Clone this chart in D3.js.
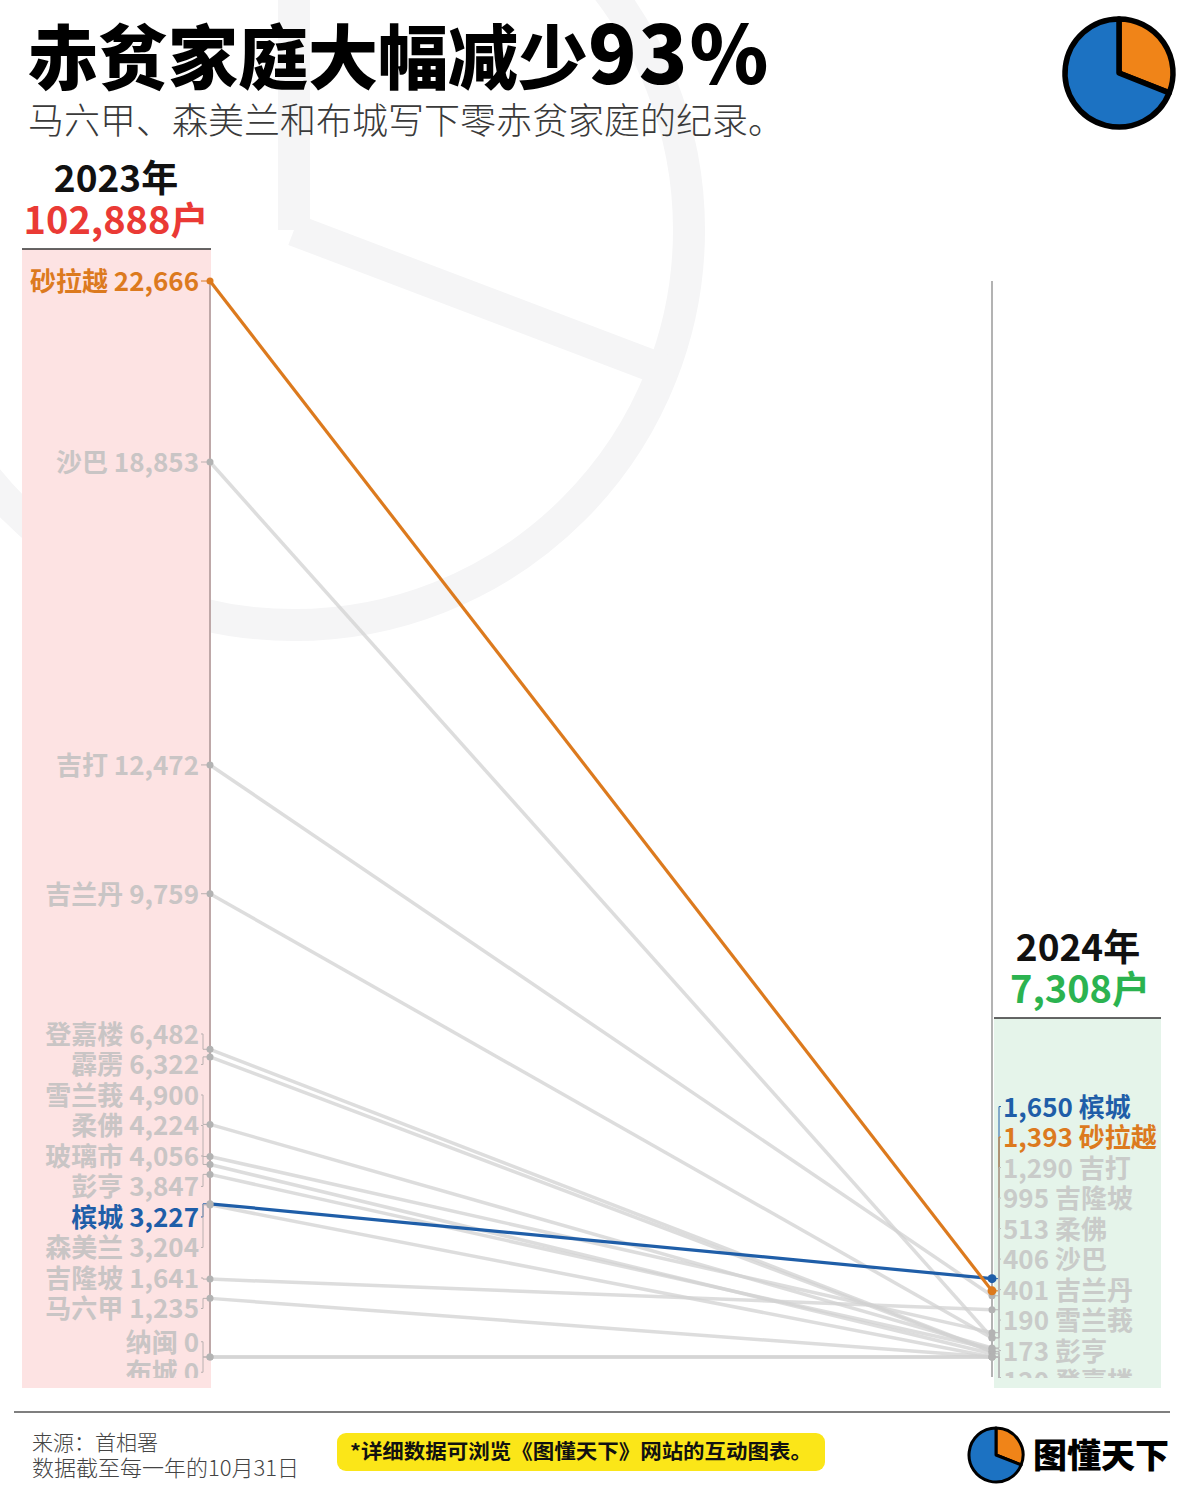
<!DOCTYPE html>
<html>
<head>
<meta charset="utf-8">
<script src="https://cdn.jsdelivr.net/npm/d3@7"></script>
<style>
  body { margin: 0; background: #fff; }
  svg { display: block; font-family: "Noto Sans CJK SC", "Noto Sans", sans-serif; }
</style>
</head>
<body>
<svg id="chart" width="1190" height="1494"></svg>
<script>
// data
const states = ["砂拉越", "沙巴", "吉打", "吉兰丹", "登嘉楼", "霹雳", "雪兰莪", "柔佛",
                "玻璃市", "彭亨", "槟城", "森美兰", "吉隆坡", "马六甲", "纳闽", "布城"]
const households2023 = [22666, 18853, 12472, 9759, 6482, 6322, 4900, 4224,
                        4056, 3847, 3227, 3204, 1641, 1235, 0, 0]
const households2024 = [1393, 406, 1290, 401, 120, 110, 190, 513,
                        67, 173, 1650, 0, 995, 0, 0, 0]
const years = ["2023", "2024"]
const totals = ["102,888户", "7,308户"]
const highlight = { "砂拉越": "#dc7a1e", "槟城": "#1f5ea8" }
const logoShares = [0.31, 0.69]

const svg = d3.select("#chart")
const fmt = d3.format(",")
const clipBottom = 1378

let rows = states.map((s, i) => ({ name: s, a: households2023[i], b: households2024[i], i: i }))

let x = d3.scalePoint().domain(years).range([210, 992])
let y = d3.scaleLinear()
    .domain([0, d3.max(households2023)])
    .range([1357, 281])

// faint pie watermark behind everything
let wm = svg.append("g")
    .attr("fill", "none")
    .attr("stroke", "#f5f5f6")
    .attr("stroke-width", 32)
wm.append("circle").attr("cx", 294).attr("cy", 230).attr("r", 395)
wm.append("line").attr("x1", 294).attr("y1", -20).attr("x2", 294).attr("y2", 230)
wm.append("line").attr("x1", 294).attr("y1", 230).attr("x2", 663).attr("y2", 370)

// column backgrounds
svg.append("rect").attr("x", 22).attr("y", 249).attr("width", 189).attr("height", 1139).attr("fill", "#fde3e3")
svg.append("rect").attr("x", 994).attr("y", 1018).attr("width", 167).attr("height", 370).attr("fill", "#e5f4ea")
svg.append("line").attr("x1", 22).attr("x2", 211).attr("y1", 249).attr("y2", 249).attr("stroke", "#333").attr("stroke-width", 1.5)
svg.append("line").attr("x1", 994).attr("x2", 1161).attr("y1", 1018).attr("y2", 1018).attr("stroke", "#333").attr("stroke-width", 1.5)

// title
let title = svg.append("text")
    .attr("x", 28).attr("y", 84)
    .attr("font-size", 70).attr("font-weight", 900).attr("fill", "#000")
title.append("tspan").text("赤贫家庭大幅减少")
title.append("tspan").attr("font-size", 80).attr("letter-spacing", 2).text("93%")

svg.append("text")
    .attr("x", 28).attr("y", 134)
    .attr("font-size", 36).attr("font-weight", 300).attr("fill", "#3a3a3a")
    .text("马六甲、森美兰和布城写下零赤贫家庭的纪录。")

// year headers
svg.append("text").attr("x", 116).attr("y", 192).attr("text-anchor", "middle")
    .attr("font-size", 37).attr("font-weight", 700).attr("fill", "#111").text(years[0] + "年")
svg.append("text").attr("x", 116).attr("y", 234).attr("text-anchor", "middle")
    .attr("font-size", 38).attr("font-weight", 700).attr("fill", "#ea3a35").text(totals[0])
svg.append("text").attr("x", 1078).attr("y", 961).attr("text-anchor", "middle")
    .attr("font-size", 37).attr("font-weight", 700).attr("fill", "#111").text(years[1] + "年")
svg.append("text").attr("x", 1080).attr("y", 1003).attr("text-anchor", "middle")
    .attr("font-size", 38).attr("font-weight", 700).attr("fill", "#2bb350").text(totals[1])

// plot area clipped at the bottom like the original
svg.append("clipPath").attr("id", "plot-clip")
    .append("rect").attr("x", 0).attr("y", 240).attr("width", 1190).attr("height", clipBottom - 240)
let plot = svg.append("g").attr("clip-path", "url(#plot-clip)")

// axes
plot.append("line").attr("x1", x("2023")).attr("x2", x("2023"))
    .attr("y1", y.range()[1]).attr("y2", y(0))
    .attr("stroke", "#a89494").attr("stroke-width", 1.5)
plot.append("line").attr("x1", x("2024")).attr("x2", x("2024"))
    .attr("y1", y.range()[1]).attr("y2", y(0) + 20)
    .attr("stroke", "#9a9a9a").attr("stroke-width", 1.5)

// spread labels so they don't overlap, groups centred on their points
function dodge(items, gap) {
  let sorted = items.slice().sort((p, q) => p.target - q.target || p.i - q.i)
  let groups = sorted.map(d => ({ members: [d] }))
  function place(g) {
    let mean = d3.mean(g.members, d => d.target)
    g.top = mean - (g.members.length - 1) * gap / 2
    g.bottom = g.top + (g.members.length - 1) * gap
  }
  groups.forEach(place)
  let merged = true
  while (merged) {
    merged = false
    for (let k = 1; k < groups.length; k++) {
      if (groups[k].top - groups[k - 1].bottom < gap) {
        groups[k - 1].members = groups[k - 1].members.concat(groups[k].members)
        groups.splice(k, 1)
        place(groups[k - 1])
        merged = true
        break
      }
    }
  }
  groups.forEach(g => g.members.forEach((d, j) => { d.labelY = g.top + j * gap }))
  return sorted
}

let leftLabels = dodge(rows.map(d => ({ name: d.name, v: d.a, i: d.i, target: y(d.a) })), 30.5)
let rightLabels = dodge(rows.map(d => ({ name: d.name, v: d.b, i: d.i, target: y(d.b) })), 30.5)

// leader lines
plot.selectAll(".lead-left")
    .data(leftLabels)
    .enter().append("path")
    .attr("d", d => `M${x("2023")},${d.target}H203V${d.labelY}H201`)
    .attr("fill", "none")
    .attr("stroke", d => highlight[d.name] || "#b9b0b0")
    .attr("stroke-width", 1)
plot.selectAll(".lead-right")
    .data(rightLabels)
    .enter().append("path")
    .attr("d", d => `M${x("2024")},${d.target}H999V${Math.min(d.labelY, clipBottom)}H1001`)
    .attr("fill", "none")
    .attr("stroke", d => highlight[d.name] || "#b8b8b8")
    .attr("stroke-width", 1)

// slope lines, highlighted ones on top
let ordered = rows.filter(d => !highlight[d.name])
    .concat(rows.filter(d => d.name == "槟城"), rows.filter(d => d.name == "砂拉越"))

plot.selectAll(".slope")
    .data(ordered)
    .enter().append("line")
    .attr("x1", x("2023")).attr("y1", d => y(d.a))
    .attr("x2", x("2024")).attr("y2", d => y(d.b))
    .attr("stroke", d => highlight[d.name] || "#d2d2d2")
    .attr("stroke-opacity", d => highlight[d.name] ? 1 : 0.75)
    .attr("stroke-width", d => highlight[d.name] ? 3.2 : 3.5)

plot.selectAll(".dot-left")
    .data(ordered)
    .enter().append("circle")
    .attr("cx", x("2023")).attr("cy", d => y(d.a)).attr("r", 3.5)
    .attr("fill", d => d.name == "砂拉越" ? highlight[d.name] : "#b3b3b3")
plot.selectAll(".dot-right")
    .data(ordered)
    .enter().append("circle")
    .attr("cx", x("2024")).attr("cy", d => y(d.b))
    .attr("r", d => highlight[d.name] ? 4.5 : 3.5)
    .attr("fill", d => highlight[d.name] || "#b3b3b3")

// labels (those pushed fully below the clip are not drawn)
let visible = d => d.labelY - 14 < clipBottom
plot.selectAll(".label-left")
    .data(leftLabels.filter(visible))
    .enter().append("text")
    .attr("x", 199).attr("y", d => d.labelY + 10)
    .attr("text-anchor", "end")
    .attr("font-size", 26).attr("font-weight", 700)
    .attr("fill", d => highlight[d.name] || "#c9c5c5")
    .text(d => d.name + " " + fmt(d.v))
plot.selectAll(".label-right")
    .data(rightLabels.filter(visible))
    .enter().append("text")
    .attr("x", 1003).attr("y", d => d.labelY + 10)
    .attr("font-size", 26).attr("font-weight", 700)
    .attr("fill", d => highlight[d.name] || "#c9cbc9")
    .text(d => fmt(d.v) + " " + d.name)

// pie logos
function drawLogo(cx, cy, r, sw) {
  let pie = d3.pie().sort(null)(logoShares)
  let arc = d3.arc().innerRadius(0).outerRadius(r)
  let g = svg.append("g").attr("transform", `translate(${cx},${cy})`)
  g.selectAll("path")
    .data(pie)
    .enter().append("path")
    .attr("d", arc)
    .attr("fill", (d, i) => i == 0 ? "#f08418" : "#1c72c2")
    .attr("stroke", "#000").attr("stroke-width", sw).attr("stroke-linejoin", "round")
}
drawLogo(1119, 73, 54, 5.5)
drawLogo(996, 1455, 27, 3)

// footer
svg.append("line").attr("x1", 14).attr("x2", 1170).attr("y1", 1412).attr("y2", 1412)
    .attr("stroke", "#555").attr("stroke-width", 1.5)
svg.append("text").attr("x", 32).attr("y", 1450)
    .attr("font-size", 21).attr("font-weight", 300).attr("fill", "#444").text("来源：首相署")
svg.append("text").attr("x", 32).attr("y", 1476)
    .attr("font-size", 22).attr("font-weight", 300).attr("fill", "#444").text("数据截至每一年的10月31日")
svg.append("rect").attr("x", 337).attr("y", 1433).attr("width", 488).attr("height", 38).attr("rx", 9)
    .attr("fill", "#fbe618")
svg.append("text").attr("x", 581).attr("y", 1459).attr("text-anchor", "middle")
    .attr("font-size", 20).attr("font-weight", 700).attr("fill", "#111")
    .attr("textLength", 462).attr("lengthAdjust", "spacingAndGlyphs")
    .text("*详细数据可浏览《图懂天下》网站的互动图表。")
svg.append("text").attr("x", 1033).attr("y", 1468)
    .attr("font-size", 34).attr("font-weight", 900).attr("fill", "#000").text("图懂天下")
</script>
</body>
</html>
